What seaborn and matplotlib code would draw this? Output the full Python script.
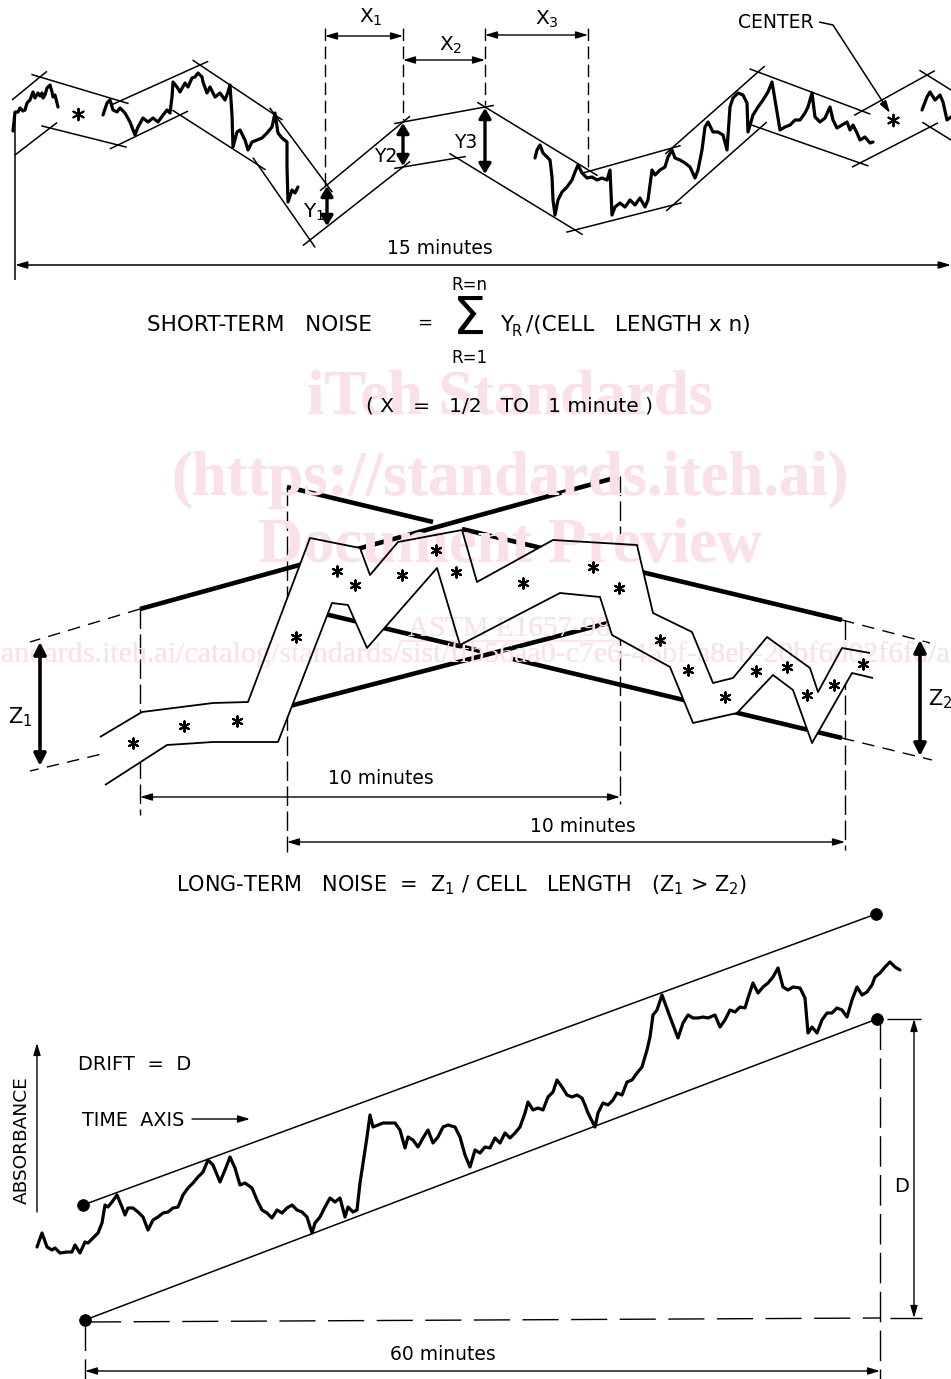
import numpy as np
import matplotlib
matplotlib.use("Agg")
import matplotlib.pyplot as plt
from matplotlib.patches import Polygon
import seaborn as sns

# ======================= DATA (drawing units: px, y pointing down) =======================
# ---- Panel 1 : short-term noise, recorder trace pieces
trace1a_x = [13, 14, 15, 18, 20, 23, 25, 27, 30, 33, 35, 38, 40, 42, 43, 45, 47, 50, 52, 53, 55, 58]
trace1a_y = [131, 122, 112, 112, 108, 111, 110, 103, 100, 92, 98, 93, 96, 93, 98, 95, 88, 85, 92, 97, 95, 107]
trace1b_x = [103, 107, 110, 113, 117, 120, 125, 130, 135, 138, 143, 148, 153, 158, 163, 167, 170, 172, 173, 177,
             180, 185, 188, 192, 195, 198, 202, 203, 207, 210, 215, 220, 225, 228, 230, 232, 233, 237, 240, 245,
             248, 252, 257, 262, 267, 272, 275, 278, 282, 287, 287, 288, 292, 295, 298]
trace1b_y = [115, 103, 100, 110, 112, 108, 113, 122, 135, 127, 118, 122, 118, 122, 115, 110, 113, 97, 82, 87,
             92, 83, 87, 78, 77, 73, 77, 82, 93, 87, 97, 93, 100, 92, 85, 115, 147, 132, 130, 140,
             150, 142, 140, 138, 133, 127, 113, 133, 138, 142, 167, 202, 190, 193, 187]
trace1c_x = [535, 537, 540, 543, 547, 550, 552, 553, 555, 558, 562, 567, 572, 575, 578, 582, 587, 592, 597, 602,
             607, 610, 612, 615, 620, 625, 630, 635, 640, 645, 648, 652, 655, 660, 665, 668, 672, 675, 680, 685,
             690, 695, 698, 702, 705, 708, 713, 718, 723, 727, 730, 733, 738, 743, 747, 748, 753, 758, 763, 768,
             772, 775, 780, 785, 790, 795, 800, 805, 808, 812, 815, 820, 825, 830, 833, 837, 842, 847, 850, 853,
             857, 860, 865, 870, 873]
trace1c_y = [158, 150, 145, 153, 157, 160, 177, 200, 215, 200, 192, 187, 180, 172, 165, 173, 178, 177, 180, 178,
             180, 170, 215, 207, 203, 207, 200, 205, 198, 207, 200, 170, 175, 170, 167, 157, 150, 158, 160, 163,
             167, 178, 170, 150, 127, 122, 132, 132, 135, 150, 107, 98, 93, 95, 103, 132, 115, 107, 100, 92,
             82, 100, 130, 127, 125, 120, 120, 113, 107, 93, 117, 122, 118, 107, 120, 128, 125, 122, 130, 125,
             133, 140, 137, 143, 142]
trace1d_x = [922, 927, 930, 935, 940, 943, 947, 951]
trace1d_y = [110, 97, 92, 100, 95, 102, 120, 117]

# envelope (cell boundaries) of panel 1
env1_up_x = [12, 40, 120, 200, 275, 327, 403, 485, 590, 672, 758, 862, 927, 951]
env1_up_y = [100, 77, 101, 65, 115, 185, 122, 107, 171, 148, 72, 111, 75, 90]
env1_lo_x = [15, 50, 118, 180, 258, 310, 403, 457, 575, 673, 760, 860, 930, 951]
env1_lo_y = [155, 128, 145, 115, 165, 240, 167, 158, 230, 205, 128, 163, 127, 140]
center1_x = [78, 893]
center1_y = [114, 120]

# ---- Panel 2 : long-term noise, band of cell centres
band_up_x = [100, 142, 213, 248, 310, 360, 370, 398, 462, 477, 553, 637, 653, 692, 713, 733, 767, 810, 818, 842, 870]
band_up_y = [737, 712, 703, 702, 538, 548, 575, 542, 530, 582, 540, 545, 613, 632, 683, 678, 637, 668, 692, 648, 653]
band_lo_x = [105, 167, 213, 278, 332, 348, 367, 437, 460, 560, 600, 612, 670, 693, 737, 773, 793, 812, 852, 873]
band_lo_y = [785, 745, 742, 742, 603, 605, 648, 568, 645, 593, 597, 635, 667, 723, 713, 675, 690, 743, 673, 678]
centers2_x = [133, 184, 237, 296, 337, 355, 402, 436, 456, 523, 593, 619, 660, 688, 725, 756, 787, 807, 834, 863]
centers2_y = [743, 726, 721, 637, 571, 585, 575, 550, 572, 583, 567, 588, 640, 670, 697, 671, 667, 695, 685, 664]
# 10-minute cell boundaries (thick lines)
cell1_top_x = [140, 618];            cell1_top_y = [609, 477]
cell1_bot_x = [140, 612];            cell1_bot_y = [745, 622]
cell2_top_x = [287, 433, np.nan, 462, 842];  cell2_top_y = [487, 522, np.nan, 529, 620]
cell2_bot_x = [287, 480, np.nan, 513, 842];  cell2_bot_y = [605, 651, np.nan, 659, 738]
# dashed extensions
ext1_top_x = [140, 30];  ext1_top_y = [609, 642]
ext1_bot_x = [140, 30];  ext1_bot_y = [745, 771]
ext2_top_x = [842, 930]; ext2_top_y = [620, 643]
ext2_bot_x = [842, 932]; ext2_bot_y = [738, 760]

# ---- Panel 3 : drift
drift_x = [37, 42, 47, 52, 55, 60, 67, 72, 75, 80, 85, 88, 93, 98, 102, 105, 108, 112, 117, 122,
           125, 128, 133, 138, 143, 148, 153, 158, 163, 168, 173, 178, 183, 188, 193, 198, 203, 208, 213, 220,
           225, 230, 235, 240, 245, 252, 257, 262, 267, 272, 277, 282, 287, 292, 297, 302, 307, 312, 315, 320,
           325, 330, 335, 340, 345, 348, 353, 357, 360, 363, 367, 370, 373, 378, 383, 388, 395, 400, 405, 408,
           413, 418, 423, 428, 433, 438, 443, 448, 455, 460, 465, 470, 475, 480, 485, 490, 495, 500, 505, 510,
           515, 520, 525, 528, 533, 538, 543, 548, 553, 557, 562, 567, 572, 577, 582, 585, 588, 595, 598, 603,
           608, 613, 617, 622, 627, 632, 637, 642, 647, 650, 653, 657, 662, 670, 678, 683, 688, 693, 698, 703,
           708, 715, 720, 725, 730, 735, 740, 745, 748, 753, 758, 763, 768, 773, 778, 783, 788, 793, 800, 805,
           808, 812, 817, 822, 827, 832, 837, 842, 847, 852, 857, 862, 867, 872, 875, 880, 885, 890, 895, 900]
drift_y = [1247, 1233, 1247, 1250, 1248, 1253, 1252, 1252, 1245, 1253, 1242, 1243, 1238, 1233, 1223, 1205, 1207, 1202, 1195, 1207,
           1215, 1208, 1208, 1212, 1217, 1230, 1220, 1217, 1213, 1212, 1208, 1207, 1195, 1188, 1183, 1177, 1172, 1160, 1165, 1182,
           1170, 1157, 1168, 1185, 1183, 1188, 1200, 1210, 1213, 1218, 1210, 1213, 1208, 1205, 1210, 1212, 1217, 1233, 1223, 1217,
           1207, 1198, 1202, 1198, 1217, 1207, 1212, 1210, 1183, 1163, 1137, 1115, 1127, 1125, 1123, 1123, 1123, 1130, 1148, 1137,
           1140, 1147, 1138, 1130, 1143, 1137, 1127, 1125, 1127, 1137, 1155, 1167, 1150, 1153, 1147, 1148, 1138, 1143, 1133, 1138,
           1133, 1127, 1113, 1102, 1110, 1108, 1110, 1097, 1092, 1080, 1087, 1095, 1097, 1095, 1098, 1105, 1113, 1127, 1113, 1103,
           1105, 1100, 1093, 1095, 1082, 1080, 1073, 1067, 1050, 1037, 1015, 1010, 995, 1017, 1038, 1023, 1015, 1018, 1018, 1017,
           1018, 1015, 1027, 1020, 1010, 1012, 1007, 1008, 998, 983, 993, 987, 983, 977, 968, 987, 990, 987, 988, 998,
           1033, 1027, 1033, 1020, 1013, 1013, 1008, 1010, 1017, 1000, 987, 995, 992, 985, 977, 973, 967, 962, 967, 970]
drift_top_x = [83, 876];  drift_top_y = [1205, 914]
drift_bot_x = [85, 877];  drift_bot_y = [1320, 1019]

# ======================= FIGURE =======================
sns.set_style("white")
plt.rcParams["font.family"] = ["DejaVu Sans"]
plt.rcParams["mathtext.default"] = "regular"

W, H = 951, 1379
fig = plt.figure(figsize=(W / 100, H / 100), dpi=100)
ax = fig.add_axes([0, 0, 1, 1])
ax.set_xlim(0, W)
ax.set_ylim(H, 0)
ax.axis("off")

K = "black"
PINK = "#fae1e7"


def trace(x, y, lw=2.3, z=4):
    sns.lineplot(x=x, y=y, sort=False, estimator=None, color=K, linewidth=lw, ax=ax, zorder=z)


def line(x, y, lw=1.1, ls="-", z=3, color=K):
    ax.plot(x, y, color=color, lw=lw, ls=ls, zorder=z, solid_capstyle="butt")


def envelope(xs, ys, ext=9):
    n = len(xs)
    for i in range(n - 1):
        x0, y0, x1, y1 = xs[i], ys[i], xs[i + 1], ys[i + 1]
        d = np.hypot(x1 - x0, y1 - y0)
        ux, uy = (x1 - x0) / d, (y1 - y0) / d
        e0 = ext if i > 0 else 0
        e1 = ext if i < n - 2 else 0
        line([x0 - ux * e0, x1 + ux * e1], [y0 - uy * e0, y1 + uy * e1], lw=1.1)


def arrow(p0, p1, lw=1.0, style="<|-|>", hl=0.6, hw=0.18, ms=12, z=5):
    ax.annotate("", xy=p1, xytext=p0, zorder=z,
                arrowprops=dict(arrowstyle=f"{style},head_length={hl},head_width={hw}",
                                lw=lw, color=K, shrinkA=0, shrinkB=0, mutation_scale=ms))


def lab(x, y, s, size=14, ha="center", va="center", **kw):
    ax.text(x, y, s, fontsize=size, ha=ha, va=va, color=K, zorder=6, **kw)


# ---------------- Panel 1 ----------------
for tx, ty in [(trace1a_x, trace1a_y), (trace1b_x, trace1b_y), (trace1c_x, trace1c_y), (trace1d_x, trace1d_y)]:
    trace(tx, ty)
envelope(env1_up_x, env1_up_y)
envelope(env1_lo_x, env1_lo_y)
sns.scatterplot(x=center1_x, y=center1_y, marker=(6, 2, 0), s=70, color=K, edgecolor=K, linewidth=1.4,
                ax=ax, zorder=5, legend=False)

# dimension lines X1..X3
for xv, y1 in [(325, 185), (403, 120), (485, 105), (588, 168)]:
    line([xv, xv], [28, y1], lw=1.0, ls=(0, (9, 4)))
arrow((325, 36), (403, 36))
arrow((403, 60), (485, 60))
arrow((485, 35), (588, 35))
lab(371, 17, r"$\mathregular{X_1}$", 14.5)
lab(451, 45, r"$\mathregular{X_2}$", 14.5)
lab(547, 19, r"$\mathregular{X_3}$", 14.5)
# Y1..Y3
arrow((327, 186), (327, 226), lw=2.4, hl=0.5, hw=0.3, ms=12)
arrow((403, 123), (403, 166), lw=2.4, hl=0.5, hw=0.3, ms=12)
arrow((485, 108), (485, 174), lw=2.4, hl=0.5, hw=0.3, ms=12)
lab(314, 212, r"$\mathregular{Y_1}$", 14.5)
lab(386, 156, "Y2", 13.5)
lab(466, 143, "Y3", 13.5)
# 15 minutes
line([15, 15], [113, 280], lw=1.1)
arrow((15, 265), (951, 265), lw=1.1)
lab(440, 249, "15 minutes", 13.5)
# CENTER
lab(776, 22, "CENTER", 13.5)
line([819, 833], [22, 25], lw=1.1)
arrow((833, 25), (890, 113), style="-|>", lw=1.1)

# formula
lab(147, 331, "SHORT-TERM   NOISE", 15.5, ha="left", va="baseline")
lab(425, 323, "=", 13)
lab(470, 320, "\u03a3", 38)
lab(469, 285, "R=n", 12)
lab(469, 358, "R=1", 12)
lab(500, 331, "Y", 15.5, ha="left", va="baseline")
lab(512, 336, "R", 10.5, ha="left", va="baseline")
lab(526, 331, "/(CELL   LENGTH x n)", 15.5, ha="left", va="baseline")
lab(510, 412, "( X   =   1/2   TO   1 minute )", 14.5, va="baseline")

# ---------------- Panel 2 ----------------
band_poly = Polygon(np.column_stack([band_up_x + band_lo_x[::-1], band_up_y + band_lo_y[::-1]]),
                    closed=True, fc="white", ec="none", zorder=2)
ax.add_patch(band_poly)
line(band_up_x, band_up_y, lw=1.3, z=3)
line(band_lo_x, band_lo_y, lw=1.3, z=3)
for xs, ys in [(cell1_top_x, cell1_top_y), (cell1_bot_x, cell1_bot_y),
               (cell2_top_x, cell2_top_y), (cell2_bot_x, cell2_bot_y)]:
    line(xs, ys, lw=3.3, z=1.6)
for xs, ys in [(ext1_top_x, ext1_top_y), (ext1_bot_x, ext1_bot_y),
               (ext2_top_x, ext2_top_y), (ext2_bot_x, ext2_bot_y)]:
    line(xs, ys, lw=1.0, ls=(0, (9, 6)), z=1.5)
for xv, y0, y1 in [(140, 609, 815), (287, 486, 852), (620, 476, 804), (845, 620, 850)]:
    line([xv, xv], [y0, y1], lw=1.0, ls=(0, (14, 4)), z=1.5)
sns.scatterplot(x=centers2_x, y=centers2_y, marker=(6, 2, 0), s=55, color=K, edgecolor=K, linewidth=1.5,
                ax=ax, zorder=5, legend=False)
arrow((40, 642), (40, 766), lw=2.6, hl=0.6, hw=0.3, ms=12)
arrow((920, 640), (920, 756), lw=2.6, hl=0.6, hw=0.3, ms=12)
lab(20, 717, r"$\mathregular{Z_1}$", 15)
lab(940, 699, r"$\mathregular{Z_2}$", 15)
arrow((140, 797), (620, 797))
arrow((287, 842), (845, 842))
lab(381, 779, "10 minutes", 13.5)
lab(583, 826, "10 minutes", 13.5)
lab(462, 885, r"LONG-TERM   NOISE  =  $\mathregular{Z_1}$ / CELL   LENGTH   ($\mathregular{Z_1}$ > $\mathregular{Z_2}$)", 15)

# ---------------- Panel 3 ----------------
trace(drift_x, drift_y, lw=2.3)
line(drift_top_x, drift_top_y, lw=1.1)
line(drift_bot_x, drift_bot_y, lw=1.1)
sns.scatterplot(x=drift_top_x + drift_bot_x, y=drift_top_y + drift_bot_y, s=70, color=K, edgecolor=K,
                ax=ax, zorder=6, legend=False)
line([85, 880], [1322, 1318], lw=1.0, ls=(0, (26, 9)))
line([880, 880], [1019, 1379], lw=1.0, ls=(0, (22, 6)))
line([85, 85], [1320, 1379], lw=1.0, ls=(0, (22, 6)))
arrow((85, 1371), (880, 1371))
lab(443, 1355, "60 minutes", 13.5)
line([887, 921], [1019, 1019], lw=1.0)
line([890, 922], [1318, 1318], lw=1.0)
arrow((914, 1019), (914, 1318))
lab(902, 1186, "D", 14)
arrow((37, 1212), (37, 1043), style="-|>")
lab(22, 1140, "ABSORBANCE", 13.3, rotation=90)
lab(78, 1064, "DRIFT  =  D", 14, ha="left")
lab(82, 1120, "TIME  AXIS", 13.8, ha="left")
arrow((192, 1119), (250, 1119), style="-|>")

# ---------------- watermark overlay ----------------
wm_text = ["iTeh Standards", "(https://standards.iteh.ai)", "Document Preview", "ASTM E1657-98"]
wm_y = [413, 495, 562, 636]
wm_size = [45, 45, 45, 21]
wm_weight = ["bold", "bold", "bold", "normal"]
url_text = "andards.iteh.ai/catalog/standards/sist/ffb56aa0-c7e6-45bf-a8eb-20bf6d02f6fd/a"
for z, clip in [(0.5, False), (2.2, True)]:
    arts = []
    for s, yv, fs, fw in zip(wm_text, wm_y, wm_size, wm_weight):
        arts.append(ax.text(510, yv, s, fontsize=fs, fontweight=fw, ha="center", va="baseline",
                            color=PINK, family=["Liberation Serif"], zorder=z))
    arts.append(ax.text(475, 662, url_text, fontsize=21.6, ha="center", va="baseline",
                        color=PINK, family=["Liberation Serif"], zorder=z))
    arts += ax.plot([400, 620], [641, 641], color=PINK, lw=1.2, zorder=z)
    if clip:
        for a in arts:
            a.set_clip_path(band_poly)

fig.savefig("out.png", dpi=100)
